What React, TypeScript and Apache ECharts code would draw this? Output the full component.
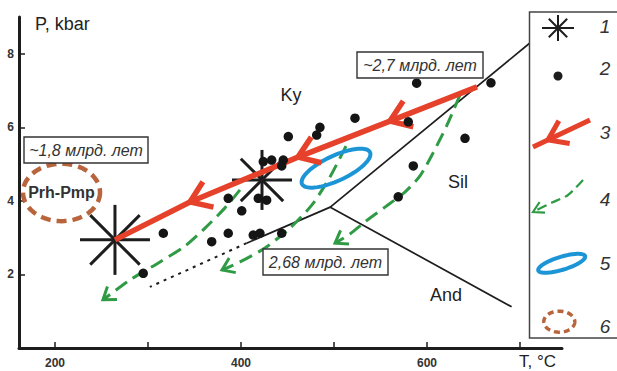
import React, { useEffect, useRef } from "react";
import * as echarts from "echarts";

// ---- axes ----
const xTickValues = [200, 300, 400, 500, 600, 700];
const xLabelValues = [200, 400, 600];
const yTickValues = [2, 4, 6, 8];

// ---- (2) samples: T (°C), P (kbar) ----
const sampleT = [450.9, 481.4, 484.9, 424.0, 433.0, 445.5, 443.8, 386.3, 418.6, 427.6, 400.8, 316.5, 368.5, 386.3, 413.2, 420.4, 443.8, 588.9, 668.8, 522.6, 579.9, 640.9, 585.3, 569.1, 294.9];
const sampleP = [5.75, 5.79, 6.0, 5.07, 5.11, 5.11, 4.95, 4.07, 4.07, 4.02, 3.73, 3.12, 2.89, 3.12, 3.07, 3.12, 3.12, 7.2, 7.21, 6.25, 6.15, 5.7, 4.95, 4.11, 2.03];

// ---- (1) stars ----
const starT = [264.5, 422.6];
const starP = [2.94, 4.57];

// ---- (3) red P-T path ----
const redT = [653.8, 560.2, 461.3, 345.2, 264.5];
const redP = [7.1, 6.17, 5.19, 3.97, 2.94];

// ---- (4) green retrograde paths ----
const greenAT = [398.9, 382.8, 361.3, 339.8, 312.9, 280.6, 251.6];
const greenAP = [4.3, 3.81, 3.26, 2.77, 2.34, 1.85, 1.31];
const greenBT = [512.9, 495.7, 476.3, 452.7, 425.8, 398.9, 379.6];
const greenBP = [5.49, 4.65, 3.89, 3.26, 2.72, 2.34, 2.12];
const greenCT = [635.5, 621.5, 606.5, 592.5, 576.3, 554.8, 533.3, 517.2, 501.1];
const greenCP = [6.88, 6.06, 5.3, 4.68, 4.24, 3.83, 3.43, 3.1, 2.85];

// ---- (5),(6) fields ----
const blueFieldT = [502.2];
const blueFieldP = [4.89];
const prhFieldT = [207];
const prhFieldP = [4.23];

// ---- Al2SiO5 phase boundaries ----
const kySilT = [496, 711];
const kySilP = [3.83, 8.3];
const andSilT = [496, 691];
const andSilP = [3.83, 1.12];
const kyAndT = [496, 406];
const kyAndP = [3.83, 2.85];
const kyAndExtT = [406, 302];
const kyAndExtP = [2.85, 1.66];

const FONT = "Liberation Sans, Arial, sans-serif";
const RED = "#e6412a";
const GREEN = "#2f9b45";
const BLUE = "#1c95d6";
const BROWN = "#b8653d";
const INK = "#1d1d1d";

function barbs(tip: number[], from: number[], len: number, angDeg: number) {
  const dx = from[0] - tip[0];
  const dy = from[1] - tip[1];
  const d = Math.hypot(dx, dy) || 1;
  const ux = dx / d, uy = dy / d;
  const a = (angDeg * Math.PI) / 180;
  const r = (s: number) => [
    tip[0] + len * (ux * Math.cos(s * a) - uy * Math.sin(s * a)),
    tip[1] + len * (ux * Math.sin(s * a) + uy * Math.cos(s * a)),
  ];
  return [r(1), tip, r(-1)];
}

function ellipsePts(cx: number, cy: number, rx: number, ry: number, rotDeg: number, n = 96) {
  const r = (rotDeg * Math.PI) / 180;
  const pts: number[][] = [];
  for (let i = 0; i < n; i++) {
    const t = (2 * Math.PI * i) / n;
    const x = rx * Math.cos(t), y = ry * Math.sin(t);
    pts.push([cx + x * Math.cos(r) - y * Math.sin(r), cy + x * Math.sin(r) + y * Math.cos(r)]);
  }
  return pts;
}

function overlay(render: (api: any) => any) {
  return {
    type: "custom",
    coordinateSystem: "cartesian2d",
    data: [[400, 4]],
    clip: false,
    silent: true,
    renderItem: (_p: any, api: any) => render(api),
  };
}

const pts = (api: any, T: number[], P: number[]) => T.map((t, i) => api.coord([t, P[i]]));

function lineSeries(T: number[], P: number[], dash?: number[], width = 1.7) {
  return overlay((api) => ({
    type: "polyline",
    shape: { points: pts(api, T, P) },
    style: { stroke: INK, lineWidth: width, fill: null, lineDash: dash || null },
  }));
}

function greenSeries(T: number[], P: number[]) {
  return overlay((api) => {
    const p = pts(api, T, P);
    const n = p.length;
    return {
      type: "group",
      children: [
        { type: "polyline", shape: { points: p, smooth: 0.25 }, style: { stroke: GREEN, lineWidth: 3, fill: null, lineDash: [14, 7] } },
        { type: "polyline", shape: { points: barbs(p[n - 1], p[n - 2], 14, 35) }, style: { stroke: GREEN, lineWidth: 3, fill: null } },
      ],
    };
  });
}

const redSeries = overlay((api) => {
  const p = pts(api, redT, redP);
  const children: any[] = [
    { type: "polyline", shape: { points: p }, style: { stroke: RED, lineWidth: 5.5, fill: null, lineJoin: "round" } },
  ];
  for (const i of [1, 2, 3]) {
    children.push({ type: "polyline", shape: { points: barbs(p[i], p[i - 1], 24, 35) }, style: { stroke: RED, lineWidth: 5.5, fill: null, lineJoin: "miter" } });
  }
  return { type: "group", children };
});

const starSeries = overlay((api) => {
  const children: any[] = [];
  starT.forEach((t, k) => {
    const c = api.coord([t, starP[k]]);
    const arm = k === 0 ? 35 : 30;
    for (let j = 0; j < 4; j++) {
      const a = (j * Math.PI) / 4;
      children.push({
        type: "line",
        shape: { x1: c[0] - arm * Math.cos(a), y1: c[1] - arm * Math.sin(a), x2: c[0] + arm * Math.cos(a), y2: c[1] + arm * Math.sin(a) },
        style: { stroke: INK, lineWidth: 3 },
      });
    }
  });
  return { type: "group", children };
});

const blueSeries = overlay((api) => {
  const c = api.coord([blueFieldT[0], blueFieldP[0]]);
  return { type: "polygon", shape: { points: ellipsePts(c[0], c[1], 37.5, 12.5, -25) }, style: { stroke: BLUE, lineWidth: 4, fill: null } };
});

const prhSeries = overlay((api) => {
  const c = api.coord([prhFieldT[0], prhFieldP[0]]);
  return {
    type: "group",
    children: [
      { type: "polygon", shape: { points: ellipsePts(c[0], c[1], 38.5, 28.7, 0) }, style: { stroke: BROWN, lineWidth: 4.5, fill: null, lineDash: [10, 6] } },
      { type: "text", x: c[0], y: c[1], style: { text: "Prh-Pmp", fontSize: 16, fontWeight: "bold", fontFamily: FONT, fill: "#333", align: "center", verticalAlign: "middle" } },
    ],
  };
});

function boxText(cx: number, cy: number, w: number, text: string) {
  return [
    { type: "rect", z: 50, shape: { x: cx - w / 2, y: cy - 13, width: w, height: 26 }, style: { fill: "#fff", stroke: "#333", lineWidth: 1.4 } },
    { type: "text", z: 51, x: cx, y: cy, style: { text, fontSize: 16, fontStyle: "italic", fontFamily: FONT, fill: "#333", align: "center", verticalAlign: "middle" } },
  ];
}

function plainText(x: number, y: number, text: string, size = 18, align = "center") {
  return { type: "text", z: 50, x, y, style: { text, fontSize: size, fontFamily: FONT, fill: "#222", align, verticalAlign: "middle" } };
}

function legendGraphics() {
  const z = 100;
  const g: any[] = [];
  g.push({ type: "rect", z, shape: { x: 529.5, y: 12, width: 100, height: 326 }, style: { fill: "#fff", stroke: "#444", lineWidth: 1.5 } });
  // 1 star
  const sx = 558, sy = 28;
  for (let j = 0; j < 4; j++) {
    const a = (j * Math.PI) / 4;
    const L = j === 0 ? 16 : 13;
    g.push({ type: "line", z: z + 1, shape: { x1: sx - L * Math.cos(a), y1: sy - L * Math.sin(a), x2: sx + L * Math.cos(a), y2: sy + L * Math.sin(a) }, style: { stroke: INK, lineWidth: 2 } });
  }
  // 2 dot
  g.push({ type: "circle", z: z + 1, shape: { cx: 558, cy: 76, r: 4.5 }, style: { fill: INK } });
  // 3 red arrow
  g.push({ type: "line", z: z + 1, shape: { x1: 590, y1: 120, x2: 533, y2: 147 }, style: { stroke: RED, lineWidth: 5 } });
  g.push({ type: "polyline", z: z + 1, shape: { points: barbs([548, 139.9], [590, 120], 22, 35) }, style: { stroke: RED, lineWidth: 5, fill: null } });
  // 4 green arrow
  const gp = [[583, 180], [568, 195], [552, 202.5], [533, 212]];
  g.push({ type: "polyline", z: z + 1, shape: { points: gp, smooth: 0.3 }, style: { stroke: GREEN, lineWidth: 2.2, fill: null, lineDash: [10, 5] } });
  g.push({ type: "polyline", z: z + 1, shape: { points: barbs([533, 212], [552, 202.5], 12, 30) }, style: { stroke: GREEN, lineWidth: 2.2, fill: null } });
  // 5 blue ellipse
  g.push({ type: "polygon", z: z + 1, shape: { points: ellipsePts(561.7, 263.3, 24.5, 6.5, -17) }, style: { stroke: BLUE, lineWidth: 4, fill: null } });
  // 6 brown dashed ellipse
  g.push({ type: "polygon", z: z + 1, shape: { points: ellipsePts(559.3, 321.7, 15.5, 10.5, 0) }, style: { stroke: BROWN, lineWidth: 3.5, fill: null, lineDash: [6, 4] } });
  const ny = [26, 68, 132, 199, 263, 326];
  ny.forEach((y, i) => {
    g.push({ type: "text", z: z + 1, x: 605, y, style: { text: String(i + 1), fontSize: 19, fontStyle: "italic", fontFamily: FONT, fill: "#333", align: "center", verticalAlign: "middle" } });
  });
  return g;
}

const axisLabelStyle = { fontWeight: "bold", fontSize: 12, color: "#333", fontFamily: FONT };

const option: any = {
  animation: false,
  backgroundColor: "#fff",
  grid: { left: 19, top: 17, width: 543, height: 331, containLabel: false },
  xAxis: {
    type: "value",
    min: 161.3,
    max: 745.2,
    axisLine: { show: true, onZero: false, lineStyle: { color: INK, width: 3 } },
    axisTick: { show: true, inside: true, length: 6, customValues: xTickValues, lineStyle: { color: INK, width: 1.5 } },
    axisLabel: { ...axisLabelStyle, customValues: xLabelValues, margin: 9 },
    splitLine: { show: false },
  },
  yAxis: {
    type: "value",
    min: 0,
    max: 9,
    axisLine: { show: true, onZero: false, lineStyle: { color: INK, width: 3 } },
    axisTick: { show: true, inside: true, length: 6, customValues: yTickValues, lineStyle: { color: INK, width: 1.5 } },
    axisLabel: { ...axisLabelStyle, customValues: yTickValues, margin: 5 },
    splitLine: { show: false },
  },
  series: [
    lineSeries(kySilT, kySilP),
    lineSeries(andSilT, andSilP),
    lineSeries(kyAndT, kyAndP),
    lineSeries(kyAndExtT, kyAndExtP, [3, 5], 2),
    greenSeries(greenAT, greenAP),
    greenSeries(greenBT, greenBP),
    greenSeries(greenCT, greenCP),
    blueSeries,
    prhSeries,
    starSeries,
    redSeries,
    {
      type: "scatter",
      data: sampleT.map((t, i) => [t, sampleP[i]]),
      symbol: "circle",
      symbolSize: 9.5,
      itemStyle: { color: "#151515", opacity: 1 },
      silent: true,
    },
  ],
  graphic: [
    plainText(35, 24, "P, kbar", 18, "left"),
    plainText(519, 361, "T, °C", 17, "left"),
    plainText(291, 95, "Ky"),
    plainText(458, 182, "Sil"),
    plainText(446, 295, "And"),
    ...boxText(86, 150, 124, "~1,8 млрд. лет"),
    ...boxText(420, 65, 126, "~2,7 млрд. лет"),
    ...boxText(325.5, 262, 125, "2,68 млрд. лет"),
    ...legendGraphics(),
  ],
};

export default function App() {
  const ref = useRef<HTMLDivElement>(null);
  useEffect(() => {
    const chart = echarts.init(ref.current!, null, { renderer: "svg" });
    chart.setOption(option);
    return () => chart.dispose();
  }, []);
  return <div ref={ref} style={{ position: "fixed", left: 0, top: 0, width: 617, height: 371, background: "#fff" }} />;
}
